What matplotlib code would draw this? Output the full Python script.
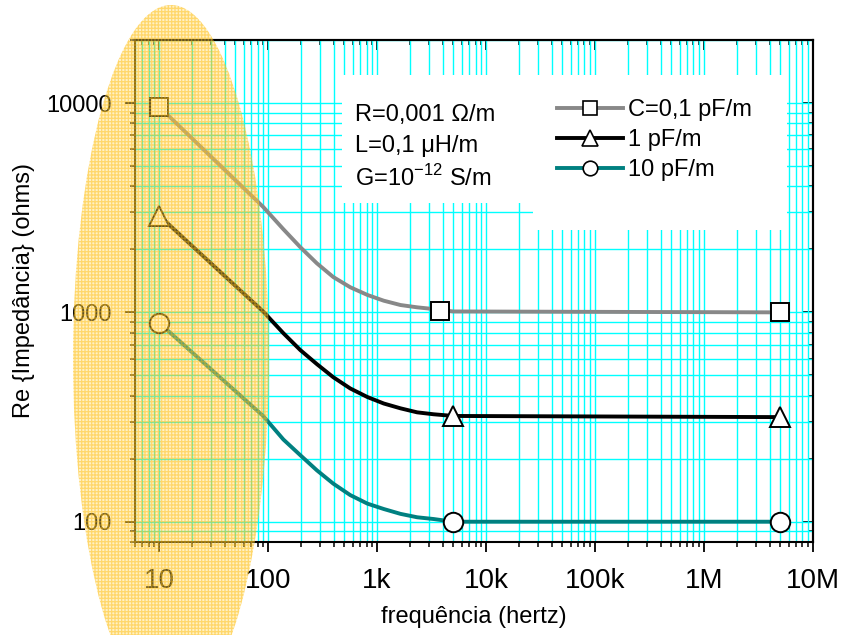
#Re{Z} of a transmission line vs frequency

import matplotlib.pyplot as plt
import numpy as np
from matplotlib.patches import Ellipse, Rectangle
from matplotlib.lines import Line2D
from matplotlib.ticker import LogLocator, NullFormatter

plt.rcParams['font.family'] = ['Liberation Sans', 'DejaVu Sans']
plt.rcParams['mathtext.fontset'] = 'custom'
plt.rcParams['mathtext.rm'] = 'Liberation Sans'
plt.rcParams['hatch.linewidth'] = 0.9

#Data
freq = [10, 90, 138, 197, 280, 396, 567, 815, 1150, 1640, 2330, 3300, 5000, 5e6]
z_01pF = [9600, 3190, 2495, 2050, 1715, 1475, 1318, 1211, 1137, 1084, 1057, 1037, 1010, 1000]
z_1pF = [2900, 1010, 795, 661, 566, 490, 433, 394, 367, 348, 333, 326, 320, 316]
z_10pF = [891, 320, 247, 208, 176, 152, 134, 122, 115, 109, 105, 103, 100, 100]

mk_x_01pF = [10, 3800, 5e6]
mk_y_01pF = [9600, 1010, 1000]
mk_x_1pF = [10, 5000, 5e6]
mk_y_1pF = [2900, 320, 316]
mk_x_10pF = [10, 5000, 5e6]
mk_y_10pF = [891, 100, 100]

labels = ['C=0,1 pF/m', '1 pF/m', '10 pF/m']
colors = ['#888888', '#000000', '#008080']
markers = ['s', '^', 'o']
msizes = [13, 15, 14]

xticks = [10, 100, 1e3, 1e4, 1e5, 1e6, 1e7]
xticklabels = ['10', '100', '1k', '10k', '100k', '1M', '10M']
yticks = [100, 1000, 10000]
yticklabels = ['100', '1000', '10000']

params = ['R=0,001 \u03a9/m', 'L=0,1 \u03bcH/m', 'G=10$^{-12}$ S/m']

fig = plt.figure(figsize=(8.45, 6.35), dpi=100)
ax = fig.add_axes([135/845, 93/635, 678/845, 502/635])
ax.set_xscale('log')
ax.set_yscale('log')
ax.set_xlim(6, 1e7)
ax.set_ylim(80, 20000)

ax.grid(True, which='both', color='#00FFFF', lw=1.0, zorder=0)
ax.set_axisbelow(True)

#white boxes behind text and legend
ax.add_patch(Rectangle((0.305, 0.675), 0.282, 0.255, transform=ax.transAxes,
                       facecolor='white', edgecolor='none', zorder=1.5))
ax.add_patch(Rectangle((0.587, 0.622), 0.375, 0.308, transform=ax.transAxes,
                       facecolor='white', edgecolor='none', zorder=1.5))

series = [(z_01pF, mk_x_01pF, mk_y_01pF), (z_1pF, mk_x_1pF, mk_y_1pF), (z_10pF, mk_x_10pF, mk_y_10pF)]
handles = []
for i, (z, mx, my) in enumerate(series):
    ax.plot(freq, z, color=colors[i], lw=2.8, zorder=3)
    ax.plot(mx, my, ls='none', marker=markers[i], ms=msizes[i], mfc='white',
            mec='black', mew=1.4, zorder=4)
    handles.append(Line2D([], [], color=colors[i], lw=2.8, marker=markers[i],
                          ms=msizes[i]*0.75, mfc='white', mec='black', mew=1.2))

ax.set_xticks(xticks)
ax.set_xticklabels(xticklabels, fontsize=20)
ax.set_yticks(yticks)
ax.set_yticklabels(yticklabels, fontsize=17)
ax.xaxis.set_minor_locator(LogLocator(base=10, subs=np.arange(2, 10), numticks=30))
ax.yaxis.set_minor_locator(LogLocator(base=10, subs=np.arange(2, 10), numticks=30))
ax.xaxis.set_minor_formatter(NullFormatter())
ax.yaxis.set_minor_formatter(NullFormatter())
ax.tick_params(which='major', direction='out', length=7, width=1.3)
ax.tick_params(which='minor', direction='out', length=3.5, width=1.1)
ax.tick_params(axis='x', pad=12)
ax.tick_params(axis='y', pad=10)
for s in ax.spines.values():
    s.set_linewidth(1.5)

#top and right ticks pointing inward
secx = ax.secondary_xaxis('top')
secx.set_xticks(xticks)
secx.xaxis.set_minor_locator(LogLocator(base=10, subs=np.arange(2, 10), numticks=30))
secx.tick_params(which='major', direction='in', length=7, width=1.3, labeltop=False)
secx.tick_params(which='minor', direction='in', length=3.5, width=1.1, labeltop=False)
secx.spines['top'].set_linewidth(1.5)
secy = ax.secondary_yaxis('right')
secy.set_yticks(yticks)
secy.yaxis.set_minor_locator(LogLocator(base=10, subs=np.arange(2, 10), numticks=30))
secy.tick_params(which='major', direction='in', length=7, width=1.3, labelright=False)
secy.tick_params(which='minor', direction='in', length=3.5, width=1.1, labelright=False)
secy.spines['right'].set_linewidth(1.5)

ax.set_xlabel('frequência (hertz)', fontsize=17)
ax.set_ylabel('Re {Impedância} (ohms)', fontsize=17)
ax.xaxis.set_label_coords(0.5, -0.128)
ax.yaxis.set_label_coords(-0.148, 0.5)

for k, txt in enumerate(params):
    ax.text(0.3245, (542 - [121, 152, 186][k]) / 502, txt, transform=ax.transAxes,
            fontsize=17, va='baseline', ha='left', zorder=5)

ax.legend(handles, labels, loc='upper left', bbox_to_anchor=(0.622, 0.882),
          frameon=False, fontsize=17, handlelength=2.8, handletextpad=0.2,
          labelspacing=0.34, borderpad=0, borderaxespad=0, numpoints=1)

#yellow hatched ellipse on top of everything
fig.add_artist(Ellipse((171/845, 1 - 358/635), 196/845, 706/635, transform=fig.transFigure,
                       facecolor=(1.0, 0.86, 0.4, 0.38), edgecolor='none', zorder=10))
fig.add_artist(Ellipse((171/845, 1 - 358/635), 196/845, 706/635, transform=fig.transFigure,
                       facecolor='none', edgecolor=(1.0, 0.72, 0.0, 0.45), lw=0,
                       hatch='+++++', zorder=11))

plt.savefig('out.png', dpi=100)
plt.close()
